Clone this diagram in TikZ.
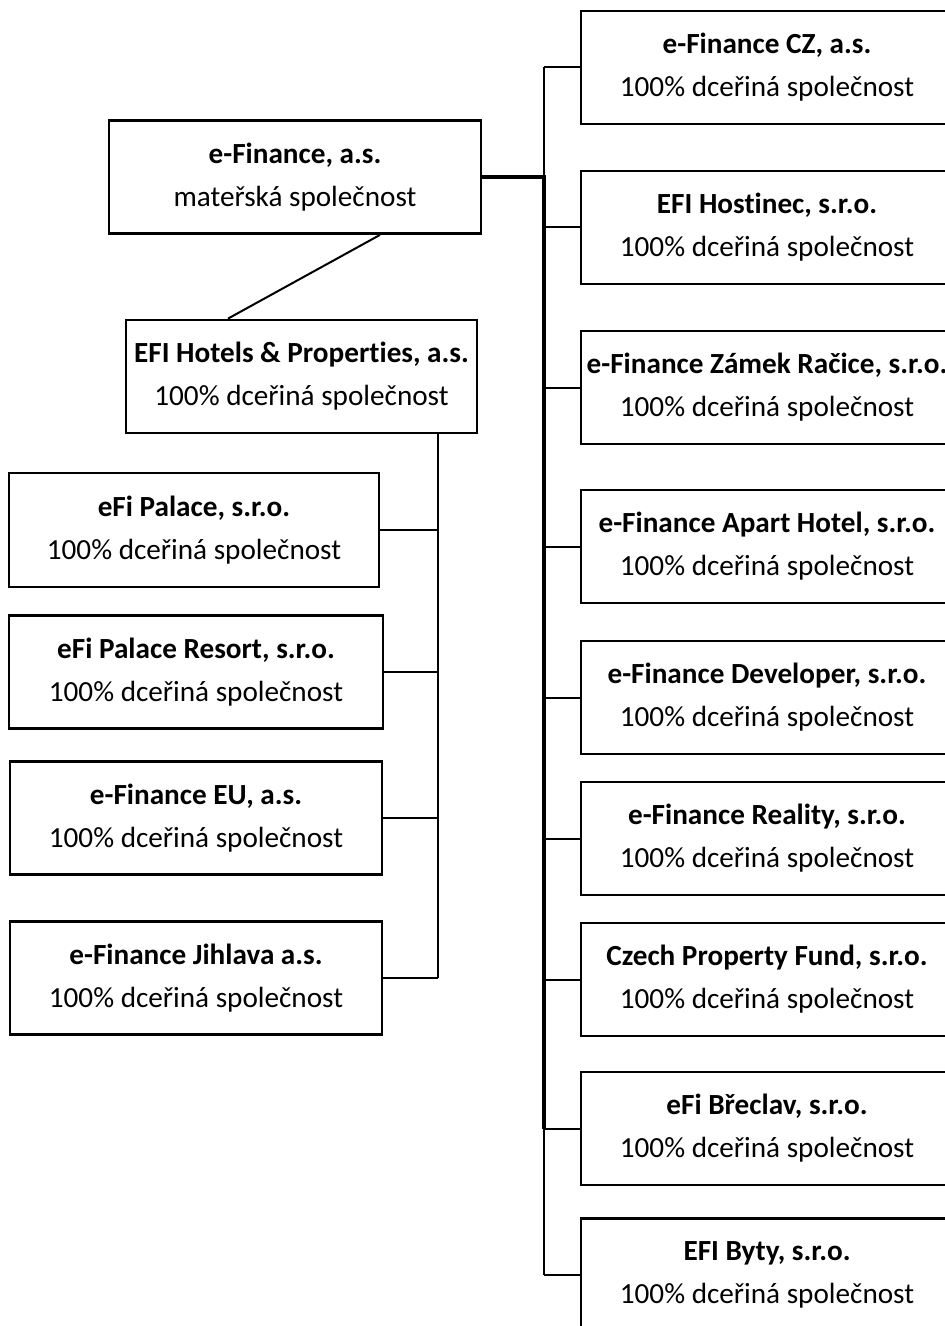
\documentclass[tikz,border=0pt]{standalone}
\usepackage{fontspec}
\setmainfont[Ligatures=NoCommon]{Carlito}
\usepackage{tikz}

\tikzset{
  firm/.style={draw, line width=1.4pt, align=center, inner sep=0pt,
    minimum width=186pt, minimum height=56.5pt,
    font=\fontsize{14.6}{21.5}\selectfont},
  link/.style={line width=1pt},
  trunk/.style={line width=2pt}
}

\begin{document}
\begin{tikzpicture}[x=0.5pt,y=-0.5pt]
\useasboundingbox (0,0) rectangle (945,1326);

% mateřská a holding
\node[firm] (parent) at (295,177) {\textbf{e-Finance, a.s.}\\mateřská společnost};
\node[firm, minimum width=175.5pt] (hotels) at (301.5,376.5) {\textbf{EFI Hotels \& Properties, a.s.}\\100\% dceřiná společnost};

% levý sloupec
\node[firm, minimum width=185pt, minimum height=57pt] (palace) at (194,530) {\textbf{eFi Palace, s.r.o.}\\100\% dceřiná společnost};
\node[firm, minimum width=187pt] (resort) at (196,672) {\textbf{eFi Palace Resort, s.r.o.}\\100\% dceřiná společnost};
\node[firm, minimum width=186pt] (eu) at (196,818) {\textbf{e-Finance EU, a.s.}\\100\% dceřiná společnost};
\node[firm, minimum width=186pt] (jihlava) at (196,978) {\textbf{e-Finance Jihlava a.s.}\\100\% dceřiná společnost};

% pravý sloupec
\node[firm] (cz) at (767,67.5) {\textbf{e-Finance CZ, a.s.}\\100\% dceřiná společnost};
\node[firm] (hostinec) at (767,227.5) {\textbf{EFI Hostinec, s.r.o.}\\100\% dceřiná společnost};
\node[firm] (racice) at (767,387.5) {\textbf{e-Finance Zámek Račice, s.r.o.}\\100\% dceřiná společnost};
\node[firm] (apart) at (767,546.5) {\textbf{e-Finance Apart Hotel, s.r.o.}\\100\% dceřiná společnost};
\node[firm] (developer) at (767,697.5) {\textbf{e-Finance Developer, s.r.o.}\\100\% dceřiná společnost};
\node[firm] (reality) at (767,838.5) {\textbf{e-Finance Reality, s.r.o.}\\100\% dceřiná společnost};
\node[firm] (fund) at (767,979.5) {\textbf{Czech Property Fund, s.r.o.}\\100\% dceřiná společnost};
\node[firm] (breclav) at (767,1128.5) {\textbf{eFi Břeclav, s.r.o.}\\100\% dceřiná společnost};
\node[firm] (byty) at (767,1275) {\textbf{EFI Byty, s.r.o.}\\100\% dceřiná společnost};

\coordinate (lspine) at (438,0);
\coordinate (rspine) at (544,0);

% spojnice vlevo
\draw[link] ([xshift=42.5pt]parent.south) -- ([xshift=-36.75pt]hotels.north);
\draw[link] (hotels.south -| lspine) -- (jihlava.east -| lspine);
\draw[link] (palace.east) -- (palace.east -| lspine);
\draw[link] (resort.east) -- (resort.east -| lspine);
\draw[link] (eu.east) -- (eu.east -| lspine);
\draw[link] (jihlava.east) -- (jihlava.east -| lspine);

% spojnice vpravo
\draw[link] (cz.west -| rspine) -- (byty.west -| rspine);
\draw[trunk] (parent.east) -- (parent.east -| rspine) -- (breclav.west -| rspine);
\draw[link] (cz.west) -- (cz.west -| rspine);
\draw[link] (hostinec.west) -- (hostinec.west -| rspine);
\draw[link] (racice.west) -- (racice.west -| rspine);
\draw[link] (apart.west) -- (apart.west -| rspine);
\draw[link] (developer.west) -- (developer.west -| rspine);
\draw[link] (reality.west) -- (reality.west -| rspine);
\draw[link] (fund.west) -- (fund.west -| rspine);
\draw[link] (breclav.west) -- (breclav.west -| rspine);
\draw[link] (byty.west) -- (byty.west -| rspine);

\end{tikzpicture}
\end{document}
